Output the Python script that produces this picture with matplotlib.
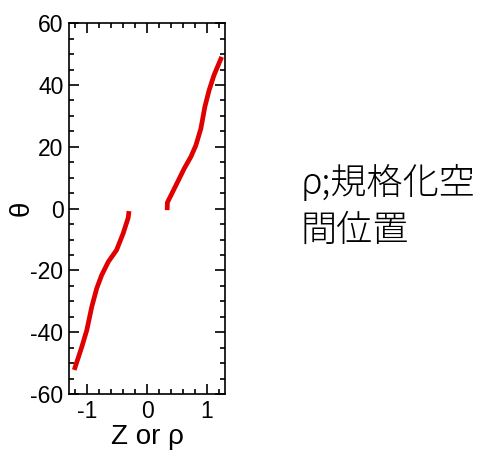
import numpy as np
import matplotlib.pyplot as plt
from matplotlib.ticker import MultipleLocator

# left branch (negative side)
z_left = [-1.213, -1.086, -1.003, -0.921, -0.838, -0.755, -0.645, -0.507, -0.397, -0.314, -0.30]
theta_left = [-52.2, -44.7, -39.3, -31.8, -25.8, -21.5, -17.2, -13.4, -8.0, -3.0, -0.8]

# right branch (positive side)
z_right = [0.336, 0.34, 0.402, 0.484, 0.621, 0.732, 0.815, 0.898, 0.964, 1.035, 1.117, 1.245]
theta_right = [-0.5, 2.0, 4.4, 7.6, 13.0, 16.8, 20.5, 25.9, 32.9, 38.3, 43.2, 49.1]

note_text = 'ρ;規格化空\n間位置'

plt.rcParams['font.family'] = ['Liberation Sans', 'DejaVu Sans']
plt.rcParams['axes.unicode_minus'] = False

fig = plt.figure(figsize=(4.87, 4.55), dpi=100)
ax = fig.add_axes([0.1417, 0.134, 0.3203, 0.815])

ax.plot(z_left, theta_left, color='#e00000', lw=3.4, solid_capstyle='butt')
ax.plot(z_right, theta_right, color='#e00000', lw=3.4, solid_capstyle='butt')

ax.set_xlim(-1.3, 1.3)
ax.set_ylim(-60, 60)
ax.xaxis.set_major_locator(MultipleLocator(1))
ax.xaxis.set_minor_locator(MultipleLocator(0.2))
ax.yaxis.set_major_locator(MultipleLocator(20))
ax.yaxis.set_minor_locator(MultipleLocator(5))
ax.tick_params(which='both', direction='in', top=True, right=True,
               labelsize=16.5, width=1.2, colors='black')
ax.tick_params(which='major', length=7.2, pad=4)
ax.tick_params(which='minor', length=3.6)
for s in ax.spines.values():
    s.set_linewidth(1.2)

ax.set_xlabel('Z or ρ', fontsize=20, labelpad=1)
ax.set_ylabel('θ', fontsize=20, labelpad=-3)

fig.text(0.618, 0.545, note_text, fontsize=26, ha='left', va='center',
         linespacing=1.3, fontweight='light',
         family=['Noto Sans CJK JP', 'DejaVu Sans'])

fig.savefig('out.png', dpi=100)
